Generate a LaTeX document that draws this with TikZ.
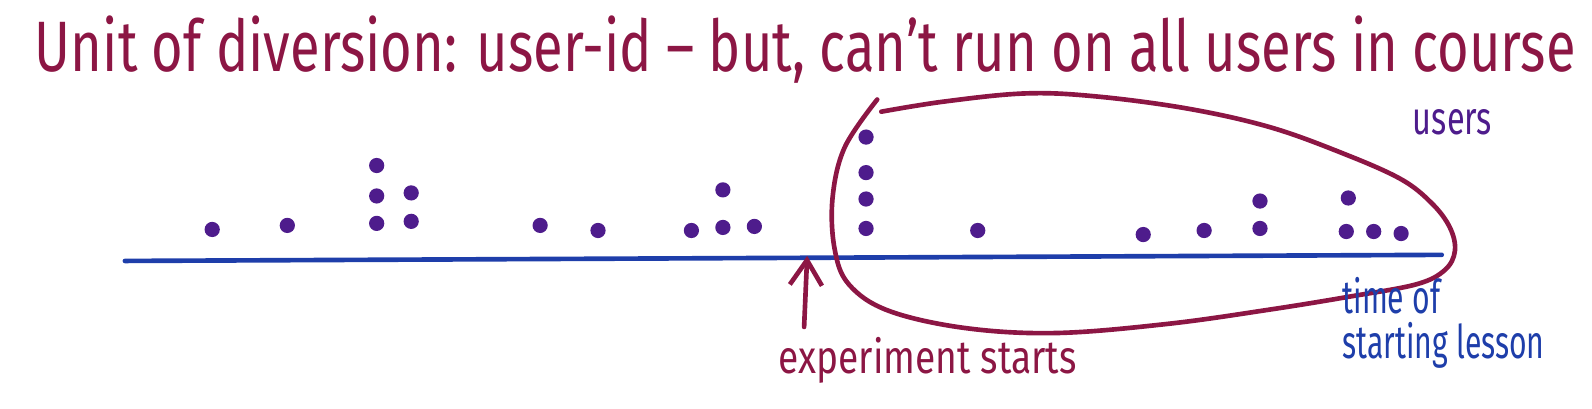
\documentclass[tikz,border=0pt]{standalone}
\usepackage{fontspec}
\setmainfont{Fira Sans}
\usetikzlibrary{arrows.meta}
\definecolor{ink}{RGB}{140,22,68}
\definecolor{timeline}{RGB}{30,62,170}
\definecolor{usercol}{RGB}{78,28,140}
\tikzset{
  user/.style={circle, fill=usercol, inner sep=0pt, minimum size=0.15cm},
  hand/.style={line width=1.3pt, line cap=round, line join=round}
}

\begin{document}
\begin{tikzpicture}[x=0.01cm, y=-0.01cm, >={Straight Barb[length=7pt, width=9pt]}]
   \useasboundingbox (0,0) rectangle (1568,402);
   \node[ink, font=\fontsize{20}{20}\selectfont, xscale=0.76, anchor=base west] (title) at (25,70)
        {Unit of diversion: user-id -- but, can't run on all users in course};

   \coordinate (t0) at (123,257);
   \coordinate (t1) at (1420,251);
   \draw[timeline, hand] (t0) -- (t1);

   \foreach \p [count=\i] in {(209,226),(283,222),(371,163),(371,193),(371,220),(405,190),(405,218),
        (532,222),(589,227),(681,227),(712,187),(712,224),(743,223),
        (853,135),(853,170),(853,196),(853,225),(963,227),(1126,231),(1186,227),
        (1241,198),(1241,225),(1328,195),(1326,228),(1353,228),(1380,230)}
      \node[user] (u\i) at \p {};

   \draw[ink, hand] plot[smooth, tension=0.6] coordinates {(868,110) (930,100) (1010,92) (1080,95)
        (1170,107) (1250,125) (1320,150) (1379,176) (1410,200) (1428,224) (1433,247) (1423,266)
        (1395,280) (1330,292) (1250,305) (1150,319) (1040,328) (950,323) (875,306) (836,280)
        (822,245) (820,195) (832,145) (864,98)};

   \node[usercol, font=\fontsize{13}{13}\selectfont, xscale=0.7, anchor=base west] (users) at (1383,132) {users};

   \coordinate (start) at (795,252);
   \coordinate (base) at (792,322);
   \draw[ink, hand, ->] (base) -- (start);
   \node[ink, font=\fontsize{13}{13}\selectfont, xscale=0.8, anchor=base west] (expt) at (757,368) {experiment starts};

   \node[timeline, font=\fontsize{13}{12.8}\selectfont, xscale=0.65, align=left, anchor=north west,
         inner sep=0pt] (lesson) at (1322,272) {time of\\starting lesson};
\end{tikzpicture}
\end{document}
